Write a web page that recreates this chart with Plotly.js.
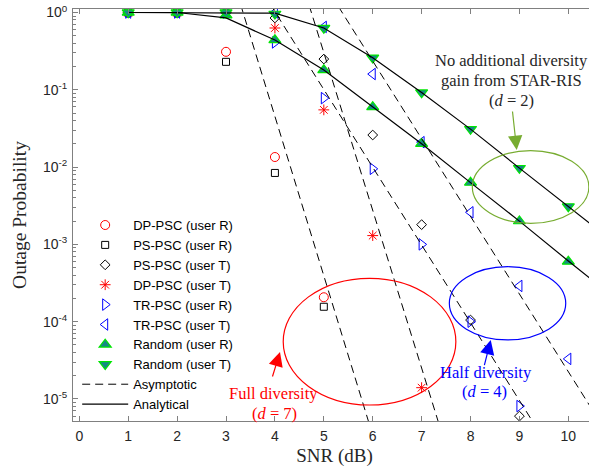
<!DOCTYPE html>
<html><head><meta charset="utf-8">
<script src="https://cdn.plot.ly/plotly-3.0.1.min.js"></script>
<style>html,body{margin:0;padding:0;overflow:hidden;background:#fff}#chart{width:596px;height:474px}</style>
</head><body><div id="chart"></div>
<script>
// ---- data ----
const snr = [1,2,3,4,5,6,7,8,9,10];
const snrAnalytical = [1,2,3,4,5,6,7,8,9,10,11];
const dpPscR = [1,1,0.31,0.0135,2.07e-4];
const psPscR = [1,1,0.23,0.0084,1.56e-4];
const psPscT = [1,1,1,0.85,0.25,0.026,0.0018,1.05e-4,6.0e-6];
const dpPscT = [1,1,1,0.63,0.055,0.0013,1.4e-5];
const trPscR = [1,1,1,0.41,0.078,0.0095,0.001,1.0e-4,8.1e-6];
const trPscT = [1,1,1,1,0.65,0.16,0.021,0.0026,2.9e-4,3.3e-5];
const randomR = [1,1,0.92,0.44,0.18,0.06,0.02,0.0063,0.002,0.0006];
const randomT = [1,1,1,0.96,0.63,0.26,0.092,0.031,0.0097,0.0031];
const analyticalR = [1,1,0.85,0.44,0.18,0.06,0.02,0.0063,0.002,0.00061,0.00019];
const analyticalT = [1,1,1,0.98,0.63,0.26,0.092,0.031,0.0097,0.0031,0.00098];
// asymptotic lines (straight in log scale), two end points each
const asymFullRx = [3.3, 6.0],  asymFullRy = [1.26, 3.4e-6];
const asymFullTx = [4.7, 7.5],  asymFullTy = [1.24, 2.4e-6];
const asymHalfRx = [3.9, 9.6],  asymHalfRy = [1.29, 2.38e-6];
const asymHalfTx = [5.3, 10.8], asymHalfTy = [1.19, 3.54e-6];
const xTicks = [0,1,2,3,4,5,6,7,8,9,10];
const yTicks = [1e-5,1e-4,1e-3,1e-2,1e-1,1];
const yTickText = ['10<sup>-5</sup>','10<sup>-4</sup>','10<sup>-3</sup>','10<sup>-2</sup>','10<sup>-1</sup>','10<sup>0</sup>'];

const RED='#ff0000', BLUE='#0000ff', GREEN='#77ac30', TEAL='#168a86', LIME='#00e600';
const DASH='8px,5px';

function mk(name, y, symbol, color, size, rank, extra){
  return Object.assign({type:'scatter', mode:'markers', name:name, x:snr.slice(0,y.length), y:y,
    legendrank:rank,
    marker:{symbol:symbol, size:size, color:color, line:{color:color, width:1}}}, extra||{});
}
const traces = [
  mk('DP-PSC (user R)', dpPscR, 'circle-open', RED, 9, 1),
  mk('PS-PSC (user R)', psPscR, 'square-open', '#000', 7, 2),
  mk('PS-PSC (user T)', psPscT, 'diamond-open', '#000', 7.5, 3),
  mk('DP-PSC (user T)', dpPscT, 'asterisk-open', RED, 9, 4),
  mk('TR-PSC (user R)', trPscR, 'triangle-right-open', BLUE, 10, 5),
  mk('TR-PSC (user T)', trPscT, 'triangle-left-open', BLUE, 10, 6),
  {type:'scatter', mode:'markers', name:'Random (user R)', x:snr, y:randomR, legendrank:7,
   marker:{symbol:'triangle-up', size:10.5, color:TEAL, line:{color:LIME, width:1.2}}},
  {type:'scatter', mode:'markers', name:'Random (user T)', x:snr, y:randomT, legendrank:8,
   marker:{symbol:'triangle-down', size:10.5, color:TEAL, line:{color:LIME, width:1.2}}},
  {type:'scatter', mode:'lines', name:'Asymptotic', x:asymFullRx, y:asymFullRy, legendrank:9, line:{color:'#000', width:1, dash:DASH}},
  {type:'scatter', mode:'lines', name:'Asymptotic', x:asymFullTx, y:asymFullTy, showlegend:false, line:{color:'#000', width:1, dash:DASH}},
  {type:'scatter', mode:'lines', name:'Asymptotic', x:asymHalfRx, y:asymHalfRy, showlegend:false, line:{color:'#000', width:1, dash:DASH}},
  {type:'scatter', mode:'lines', name:'Asymptotic', x:asymHalfTx, y:asymHalfTy, showlegend:false, line:{color:'#000', width:1, dash:DASH}},
  {type:'scatter', mode:'lines', name:'Analytical', x:snrAnalytical, y:analyticalR, legendrank:10, line:{color:'#000', width:1.2}},
  {type:'scatter', mode:'lines', name:'Analytical', x:snrAnalytical, y:analyticalT, showlegend:false, line:{color:'#000', width:1.2}}
];

const serif = 'Liberation Serif, Times New Roman, serif';
const sans = 'Liberation Sans, Arial, Helvetica, sans-serif';
function txt(text, x, ly, color){
  return {text:text, x:x, y:ly, xref:'x', yref:'y', showarrow:false, xanchor:'center', yanchor:'middle',
          font:{family:serif, size:16.5, color:color}};
}
function arr(x, ly, ax, aly, color){
  return {text:'', x:x, y:ly, ax:ax, ay:aly, xref:'x', yref:'y', axref:'x', ayref:'y', showarrow:true,
          arrowhead:2, arrowsize:2.4, arrowwidth:1.2, arrowcolor:color, standoff:0, startstandoff:0};
}
const layout = {
  width:596, height:474,
  margin:{l:73, r:0, t:9, b:53},
  paper_bgcolor:'#fff', plot_bgcolor:'#fff',
  showlegend:true,
  legend:{x:0.008, y:0.512, xanchor:'left', yanchor:'top', bgcolor:'rgba(0,0,0,0)',
          font:{family:sans, size:13, color:'#000'}, itemwidth:46, tracegroupgap:0},
  xaxis:{range:[-0.129,10.566], tickmode:'array', tickvals:xTicks, ticks:'inside', ticklen:5,
         showline:true, mirror:'ticks', linecolor:'#808080', tickcolor:'#808080', linewidth:1,
         zeroline:false, showgrid:false, ticklabelstandoff:2, tickfont:{family:sans, size:14, color:'#262626'},
         title:{text:'SNR (dB)', font:{family:serif, size:19, color:'#262626'}, standoff:5}},
  yaxis:{type:'log', range:[-5.285,0.0453], tickmode:'array', tickvals:yTicks, ticktext:yTickText,
         ticks:'inside', ticklen:5, showline:true, mirror:'ticks', linecolor:'#808080', tickcolor:'#808080', linewidth:1,
         zeroline:false, showgrid:false, ticklabelstandoff:2, tickfont:{family:sans, size:14, color:'#262626'},
         minor:{ticks:'inside', ticklen:3, dtick:'D1', tickcolor:'#808080', showgrid:false},
         title:{text:'Outage Probability', font:{family:serif, size:19.5, color:'#262626'}, standoff:11}},
  shapes:[
    {type:'circle', xref:'x', yref:'y', x0:4.17, x1:7.70, y0:8.36e-6, y1:3.64e-4, line:{color:RED, width:1.2}},
    {type:'circle', xref:'x', yref:'y', x0:7.567, x1:9.947, y0:5.8e-5, y1:5.14e-4, line:{color:BLUE, width:1.2}},
    {type:'circle', xref:'x', yref:'y', x0:8.037, x1:10.42, y0:1.875e-3, y1:1.63e-2, line:{color:GREEN, width:1.2}}
  ],
  annotations:[
    txt('No additional diversity', 8.843, -0.627, '#262626'),
    txt('gain from STAR-RIS', 8.843, -0.886, '#262626'),
    txt('(<i>d</i> = 2)', 8.843, -1.132, '#262626'),
    txt('Half diversity', 8.307, -4.655, BLUE),
    txt('(<i>d</i> = 4)', 8.29, -4.906, BLUE),
    txt('Full diversity', 3.967, -4.926, RED),
    txt('(<i>d</i> = 7)', 4.0, -5.185, RED),
    arr(4.104, -4.392, 3.941, -4.728, RED),
    arr(8.413, -4.237, 8.276, -4.582, BLUE),
    arr(8.945, -1.779, 8.855, -1.261, GREEN)
  ]
};
Plotly.newPlot('chart', traces, layout, {staticPlot:true, displayModeBar:false});
</script></body></html>
